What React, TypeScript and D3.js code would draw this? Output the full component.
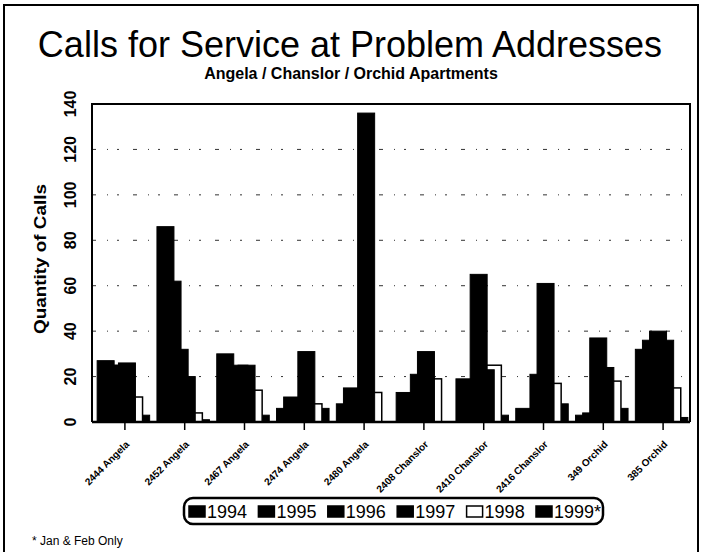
import React, { useEffect, useRef } from 'react';
import * as d3 from 'd3';

const categories = [
  '2444 Angela', '2452 Angela', '2467 Angela', '2474 Angela', '2480 Angela',
  '2408 Chanslor', '2410 Chanslor', '2416 Chanslor', '349 Orchid', '385 Orchid',
];
const years = ['1994', '1995', '1996', '1997', '1998', '1999*'];

const calls1994 = [27, 86, 30, 6, 8, 13, 19, 6, 3, 32];
const calls1995 = [25, 62, 24, 11, 15, 12, 17, 5, 4, 36];
const calls1996 = [25, 32, 25, 10, 14, 21, 65, 21, 37, 40];
const calls1997 = [26, 20, 25, 31, 136, 31, 23, 61, 24, 36];
const calls1998 = [11, 4, 14, 8, 13, 19, 25, 17, 18, 15];
const calls1999 = [3, 1, 3, 6, 0, 0, 3, 8, 6, 2];

const yTicks = [0, 20, 40, 60, 80, 100, 120, 140];
const fills = ['#000', '#000', '#000', '#000', '#fff', '#000'];

const FONT = 'Liberation Sans, Arial, Helvetica, sans-serif';

const App = () => {
  const ref = useRef<SVGSVGElement>(null);

  useEffect(() => {
    draw();
  });

  const draw = () => {
    const series = [calls1994, calls1995, calls1996, calls1997, calls1998, calls1999];
    const left = 92, right = 690, top = 104, bottom = 422;

    const svg = d3.select(ref.current);
    svg.selectAll('*').remove();

    // outer frame
    svg.append('rect')
      .attr('x', 4).attr('y', 5).attr('width', 694).attr('height', 580)
      .attr('fill', '#fff').attr('stroke', '#000').attr('stroke-width', 2);

    svg.append('text')
      .attr('x', 350).attr('y', 57)
      .attr('text-anchor', 'middle')
      .attr('font-family', FONT).attr('font-size', 36)
      .text('Calls for Service at Problem Addresses');

    svg.append('text')
      .attr('x', 351).attr('y', 79)
      .attr('text-anchor', 'middle')
      .attr('font-family', FONT).attr('font-size', 16).attr('font-weight', 'bold')
      .text('Angela / Chanslor / Orchid Apartments');

    const x0 = d3.scaleBand().domain(categories).range([left, right]);
    const y = d3.scaleLinear().domain([0, 140]).range([bottom, top]);

    // bars overlap: each is 17px wide, shifted 7.1px; earlier years sit on top
    const barW = 17;
    const x1 = d3.scaleLinear().domain([0, years.length - 1]).range([0, 35.5]);
    const clusterW = x1(years.length - 1) + barW;
    const offset = (x0.bandwidth() - clusterW) / 2 + 1.5;

    // faint broken gridlines
    svg.append('g')
      .selectAll('line')
      .data(yTicks.filter((t) => t > 0 && t < 140))
      .enter()
      .append('line')
      .attr('x1', left).attr('x2', right)
      .attr('y1', (d) => y(d)).attr('y2', (d) => y(d))
      .attr('stroke', '#333').attr('stroke-width', 1)
      .attr('stroke-dasharray', '4 11 1 9 2 14');

    const bars = svg.append('g');
    for (let s = years.length - 1; s >= 0; s--) {
      bars.append('g')
        .selectAll('rect')
        .data(series[s])
        .enter()
        .append('rect')
        .attr('x', (d, i) => (x0(categories[i]) || 0) + offset + x1(s))
        .attr('y', (d) => y(d))
        .attr('width', barW)
        .attr('height', (d) => bottom - y(d))
        .attr('fill', fills[s])
        .attr('stroke', '#000')
        .attr('stroke-width', s === 4 ? 1.5 : 1);
    }

    // plot frame
    svg.append('path')
      .attr('d', `M${left},${bottom}V${top}H${right}V${bottom}`)
      .attr('fill', 'none').attr('stroke', '#000').attr('stroke-width', 2);
    svg.append('line')
      .attr('x1', left).attr('x2', right).attr('y1', bottom).attr('y2', bottom)
      .attr('stroke', '#000').attr('stroke-width', 2.5);

    // x ticks and labels
    const tickX = (c: string) => (x0(c) || 0) + offset + clusterW / 2 + 1.5;
    svg.append('g')
      .selectAll('line')
      .data(categories)
      .enter()
      .append('line')
      .attr('x1', tickX).attr('x2', tickX)
      .attr('y1', bottom).attr('y2', bottom + 8)
      .attr('stroke', '#000').attr('stroke-width', 1.5);

    svg.append('g')
      .selectAll('text')
      .data(categories)
      .enter()
      .append('text')
      .attr('transform', (d) => `translate(${tickX(d) + 5},${bottom + 23}) rotate(-45)`)
      .attr('text-anchor', 'end')
      .attr('font-family', FONT).attr('font-size', 10).attr('font-weight', 'bold')
      .text((d) => d);

    // y tick labels, rotated
    svg.append('g')
      .selectAll('text')
      .data(yTicks)
      .enter()
      .append('text')
      .attr('transform', (d) => `translate(76,${y(d)}) rotate(-90)`)
      .attr('text-anchor', 'middle')
      .attr('font-family', FONT).attr('font-size', 16).attr('font-weight', 'bold')
      .text((d) => d);

    svg.append('text')
      .attr('transform', 'translate(46,259) rotate(-90)')
      .attr('text-anchor', 'middle')
      .attr('font-family', FONT).attr('font-size', 17).attr('font-weight', 'bold')
      .attr('textLength', 150).attr('lengthAdjust', 'spacingAndGlyphs')
      .text('Quantity of Calls');

    // legend
    const legend = svg.append('g');
    legend.append('rect')
      .attr('x', 184).attr('y', 498).attr('width', 419).attr('height', 26)
      .attr('rx', 9)
      .attr('fill', '#fff').attr('stroke', '#000').attr('stroke-width', 2.5);
    const lx = d3.scaleLinear().domain([0, years.length - 1]).range([189, 536]);
    const item = legend.selectAll('g.item')
      .data(years)
      .enter()
      .append('g')
      .attr('class', 'item')
      .attr('transform', (d, i) => `translate(${lx(i)},0)`);
    item.append('rect')
      .attr('x', 0).attr('y', 506).attr('width', 16).attr('height', 11)
      .attr('fill', (d, i) => fills[i]).attr('stroke', '#000').attr('stroke-width', 1.5);
    item.append('text')
      .attr('x', 18).attr('y', 518)
      .attr('font-family', FONT).attr('font-size', 18)
      .text((d) => d);

    svg.append('text')
      .attr('x', 32).attr('y', 545)
      .attr('font-family', FONT).attr('font-size', 12)
      .text('* Jan & Feb Only');
  };

  return (
    <svg
      ref={ref}
      width={702}
      height={552}
      style={{ position: 'absolute', left: 0, top: 0, background: '#fff' }}
    />
  );
};

export default App;
